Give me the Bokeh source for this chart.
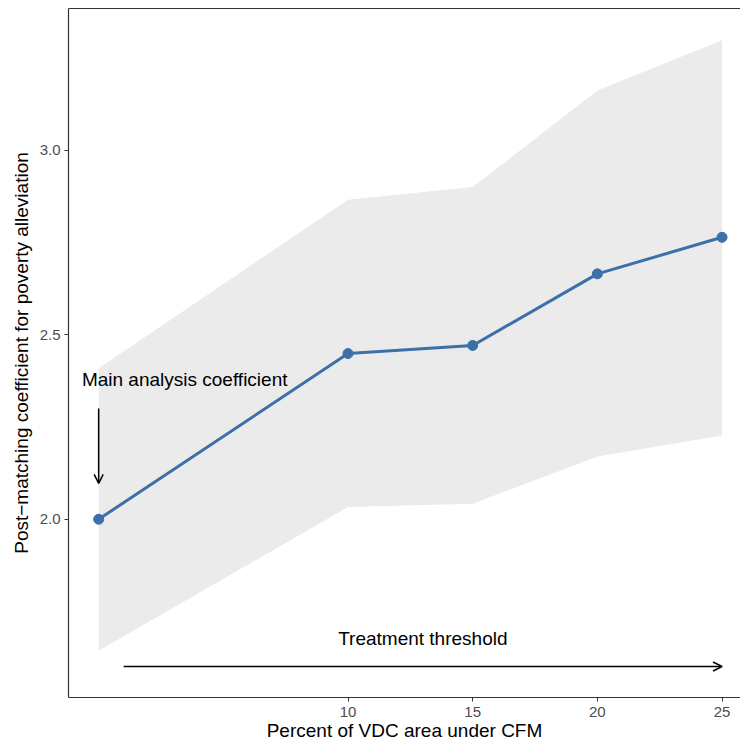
from bokeh.plotting import figure
from bokeh.models import (ColumnDataSource, Arrow, OpenHead, LinearAxis, FixedTicker,
                          Range1d, Label, PrintfTickFormatter)
from bokeh.embed import file_html
from bokeh.resources import INLINE

# ---- data ----
threshold = [0, 10, 15, 20, 25]
coef = [2.0, 2.449, 2.471, 2.665, 2.764]
ci_lower = [1.644, 2.033, 2.042, 2.170, 2.227]
ci_upper = [2.409, 2.866, 2.900, 3.162, 3.298]
x_ticks = [10, 15, 20, 25]
y_ticks = [2.0, 2.5, 3.0]

main_label = "Main analysis coefficient"
main_label_pos = (3.45, 2.379)
main_arrow = (0, 2.30, 0, 2.097)
thr_label = "Treatment threshold"
thr_label_pos = (13.0, 1.678)
thr_arrow = (1, 1.601, 25, 1.601)

FONT = "Liberation Sans"
LINE_COL = "#3B70A8"
BORDER = "#333333"

src = ColumnDataSource(dict(x=threshold, y=coef, lo=ci_lower, hi=ci_upper))

p = figure(width=740, height=747, output_backend="svg", toolbar_location=None,
           x_range=Range1d(-1.21, 25.74), y_range=Range1d(1.517, 3.384),
           min_border_left=68, min_border_right=0, min_border_top=8, min_border_bottom=50)
p.outline_line_color = None
p.background_fill_color = "white"
p.xgrid.visible = False
p.ygrid.visible = False

p.varea(x="x", y1="lo", y2="hi", source=src, fill_color="#EBEBEB")
p.line(x="x", y="y", source=src, line_color=LINE_COL, line_width=3)
p.scatter(x="x", y="y", source=src, size=10, fill_color=LINE_COL, line_color=LINE_COL)

p.add_layout(Arrow(end=OpenHead(size=9, line_width=1.5, line_color="black"),
                   x_start=main_arrow[0], y_start=main_arrow[1],
                   x_end=main_arrow[2], y_end=main_arrow[3],
                   line_width=1.5, line_color="black"))
p.add_layout(Arrow(end=OpenHead(size=9, line_width=1.5, line_color="black"),
                   x_start=thr_arrow[0], y_start=thr_arrow[1],
                   x_end=thr_arrow[2], y_end=thr_arrow[3],
                   line_width=1.5, line_color="black"))

p.add_layout(Label(x=main_label_pos[0], y=main_label_pos[1], text=main_label,
                   text_font=FONT, text_font_size="19px", text_color="black",
                   text_align="center", text_baseline="middle"))
p.add_layout(Label(x=thr_label_pos[0], y=thr_label_pos[1], text=thr_label,
                   text_font=FONT, text_font_size="19px", text_color="black",
                   text_align="center", text_baseline="middle"))

for ax in (p.xaxis[0], p.yaxis[0]):
    ax.axis_line_color = BORDER
    ax.axis_line_width = 1.2
    ax.major_tick_line_color = BORDER
    ax.major_tick_in = 0
    ax.major_tick_out = 4
    ax.minor_tick_line_color = None
    ax.major_label_text_font = FONT
    ax.major_label_text_font_size = "15px"
    ax.major_label_text_color = "#4D4D4D"
    ax.axis_label_text_font = FONT
    ax.axis_label_text_font_size = "19px"
    ax.axis_label_text_font_style = "normal"
    ax.axis_label_text_color = "black"

p.xaxis[0].ticker = FixedTicker(ticks=x_ticks)
p.yaxis[0].ticker = FixedTicker(ticks=y_ticks)
p.yaxis[0].formatter = PrintfTickFormatter(format="%.1f")
p.xaxis[0].axis_label = "Percent of VDC area under CFM"
p.yaxis[0].axis_label = "Post\u2212matching coefficient for poverty alleviation"
p.xaxis[0].major_label_standoff = 5
p.yaxis[0].major_label_standoff = 4
p.xaxis[0].axis_label_standoff = 0
p.yaxis[0].axis_label_standoff = 5

top = LinearAxis(ticker=FixedTicker(ticks=[]), axis_line_color=BORDER, axis_line_width=1.2,
                 major_tick_line_color=None, minor_tick_line_color=None,
                 major_label_text_font_size="0px", major_label_standoff=0)
p.add_layout(top, "above")

open("out.html", "w").write(file_html(p, INLINE))
